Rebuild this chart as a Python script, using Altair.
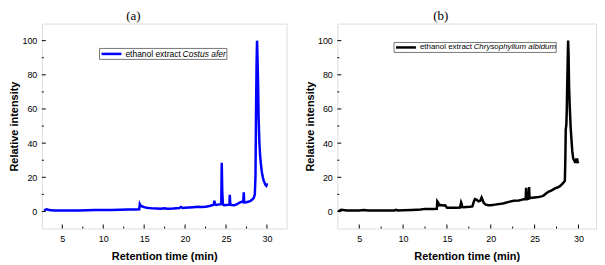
import altair as alt
import pandas as pd

# ---------------- data ----------------
# (a) ethanol extract Costus afer
t_a = [2.77, 2.9, 3.1, 3.2, 3.4, 3.7, 4.0, 5.0, 6.0, 7.0, 8.0, 9.0, 10.0, 11.0, 12.0, 13.0,
       14.0, 14.4, 14.47, 14.52, 14.6, 14.8, 15.0, 15.3, 15.6, 16.0, 16.5, 17.0, 17.5, 17.8,
       18.0, 18.5, 19.0, 19.3, 19.5, 19.7, 20.0, 20.5, 21.0, 21.5, 22.0, 22.5, 23.0, 23.3,
       23.5, 23.58, 23.65, 23.8, 24.0, 24.3, 24.42, 24.48, 24.54, 24.62, 24.75, 25.0, 25.3,
       25.42, 25.46, 25.52, 25.65, 26.0, 26.3, 26.6, 26.9, 27.1, 27.17, 27.22, 27.3, 27.5,
       27.8, 28.0, 28.2, 28.4, 28.52, 28.6, 28.67, 28.74, 28.79, 28.85, 28.93, 28.98, 29.08,
       29.18, 29.28, 29.38, 29.5, 29.6, 29.7, 29.77, 29.85, 29.92, 29.97, 30.0]
v_a = [0.6, 0.9, 1.2, 1.1, 0.8, 0.7, 0.6, 0.5, 0.5, 0.6, 0.7, 0.8, 0.8, 0.9, 1.0, 1.1,
       1.2, 1.3, 4.3, 3.8, 3.2, 2.9, 2.5, 2.2, 2.0, 1.8, 1.7, 1.6, 1.8, 1.6,
       1.6, 1.7, 1.9, 2.0, 2.6, 2.0, 2.1, 2.3, 2.5, 2.7, 2.6, 2.8, 3.2, 3.6,
       4.0, 6.3, 4.2, 3.8, 4.0, 4.2, 4.4, 28.5, 12.0, 4.2, 3.7, 3.8, 3.9,
       4.0, 9.8, 4.5, 3.8, 3.7, 4.1, 5.0, 5.6, 5.4, 11.2, 5.8, 5.3, 5.4,
       5.8, 6.2, 7.0, 8.0, 10.0, 20.0, 60.0, 88.0, 100.0, 90.0, 72.0, 55.0, 40.0,
       32.0, 27.0, 23.0, 20.0, 18.0, 17.0, 16.0, 15.3, 15.0, 15.6, 16.5]

# (b) ethanol extract Chrysophyllum albidum
t_b = [2.62, 2.8, 2.95, 3.2, 3.6, 4.0, 5.0, 5.5, 6.0, 7.0, 8.0, 9.0, 9.2, 9.4, 10.0, 11.0,
       12.0, 12.5, 13.0, 13.5, 13.85, 13.9, 14.0, 14.1, 14.3, 14.6, 14.8, 15.0, 15.5, 16.0,
       16.5, 16.62, 16.68, 16.75, 16.9, 17.2, 17.6, 17.9, 18.05, 18.2, 18.4, 18.6, 18.8, 18.95,
       19.05, 19.2, 19.43, 19.7, 19.99, 20.5, 20.93, 21.5, 22.06, 22.6, 23.19, 23.5, 23.75,
       23.98, 24.03, 24.08, 24.15, 24.3, 24.37, 24.42, 24.5, 24.69, 25.0, 25.44, 25.8, 26.0,
       26.3, 26.57, 27.0, 27.32, 27.6, 27.89, 28.1, 28.26, 28.45, 28.5, 28.55, 28.62, 28.67,
       28.72, 28.77, 28.82, 28.87, 28.93, 29.0, 29.1, 29.2, 29.3, 29.4, 29.5, 29.6, 29.7,
       29.75, 29.8, 29.85, 29.9, 30.0]
v_b = [0.0, 0.6, 1.0, 0.8, 0.6, 0.5, 0.5, 0.8, 0.5, 0.5, 0.6, 0.6, 1.0, 0.6, 0.7, 0.9,
       1.2, 1.5, 1.4, 1.5, 1.6, 5.9, 5.2, 3.6, 3.8, 3.5, 3.6, 2.2, 2.1, 2.2,
       2.3, 5.3, 4.5, 2.6, 2.5, 2.6, 2.7, 2.9, 5.5, 7.2, 6.8, 5.9, 6.3, 8.2,
       7.0, 5.0, 4.0, 3.6, 3.6, 4.0, 4.3, 4.8, 5.6, 6.2, 6.4, 6.8, 7.1,
       7.2, 13.9, 7.4, 7.2, 7.4, 14.3, 7.8, 7.8, 8.0, 8.2, 8.5, 8.8, 9.2,
       10.5, 11.5, 12.5, 13.5, 14.0, 14.8, 15.8, 16.7, 18.0, 30.0, 48.0, 51.0, 60.0,
       75.0, 88.0, 100.0, 92.0, 73.0, 62.0, 50.0, 42.0, 35.0, 31.0, 30.0, 29.0, 29.0,
       31.0, 29.5, 31.0, 29.0, 28.3]

x_major = [5, 10, 15, 20, 25, 30]
x_minor = [2.5, 7.5, 12.5, 17.5, 22.5, 27.5, 32.5]
y_major = [0, 20, 40, 60, 80, 100]
y_minor = [10, 30, 50, 70, 90]

legend_a = ["ethanol extract", "Costus afer"]
legend_b = ["ethanol extract", "Chrysophyllum albidum"]
titles = ["(a)", "(b)"]

SANS = "Liberation Sans"
SERIF = "Liberation Serif"
H = 206


def panel(t, v, color, xdom, legend, title, W, lg, title_dx):
    df = pd.DataFrame({"t": t, "v": v})
    xs = alt.Scale(domain=xdom, nice=False, zero=False)
    ys = alt.Scale(domain=[-10, 110], nice=False, zero=False)
    xax = alt.Axis(values=x_major, title="Retention time (min)", grid=False, domain=False,
                   ticks=False, tickSize=0, labelPadding=6, labelFont=SANS, labelFontSize=9,
                   labelColor="black", titleFont=SANS, titleFontSize=11, titleFontWeight="bold",
                   titleColor="black", titlePadding=7)
    yax = alt.Axis(values=y_major, title="Relative intensity", grid=False, domain=False,
                   ticks=False, tickSize=0, labelPadding=5, labelFont=SANS, labelFontSize=9,
                   labelColor="black", titleFont=SANS, titleFontSize=11, titleFontWeight="bold",
                   titleColor="black", titlePadding=2)

    line = alt.Chart(df).mark_line(color=color, strokeWidth=2.5, clip=True).encode(
        x=alt.X("t:Q", scale=xs, axis=xax),
        y=alt.Y("v:Q", scale=ys, axis=yax),
    )

    xt_major = alt.Chart(pd.DataFrame({"t": x_major})).mark_rule(color="black", strokeWidth=1).encode(
        x=alt.X("t:Q", scale=xs), y=alt.value(H), y2=alt.value(H - 4))
    xt_minor = alt.Chart(pd.DataFrame({"t": [m for m in x_minor if xdom[0] < m < xdom[1]]})).mark_rule(
        color="black", strokeWidth=1).encode(
        x=alt.X("t:Q", scale=xs), y=alt.value(H), y2=alt.value(H - 2))
    yt_major = alt.Chart(pd.DataFrame({"v": y_major})).mark_rule(color="black", strokeWidth=1).encode(
        y=alt.Y("v:Q", scale=ys), x=alt.value(0), x2=alt.value(4))
    yt_minor = alt.Chart(pd.DataFrame({"v": y_minor})).mark_rule(color="black", strokeWidth=1).encode(
        y=alt.Y("v:Q", scale=ys), x=alt.value(0), x2=alt.value(2))

    one = pd.DataFrame({"k": [0]})
    box = alt.Chart(one).mark_rect(fill="white", stroke="#555555", strokeWidth=0.8).encode(
        x=alt.value(lg["x0"]), x2=alt.value(lg["x1"]), y=alt.value(lg["y0"]), y2=alt.value(lg["y1"]))
    ymid = (lg["y0"] + lg["y1"]) / 2
    sample = alt.Chart(one).mark_rule(color=color, strokeWidth=2.5).encode(
        x=alt.value(lg["x0"] + 2), x2=alt.value(lg["x0"] + 22), y=alt.value(ymid))
    txt1 = alt.Chart(pd.DataFrame({"s": [legend[0]]})).mark_text(
        font=SANS, fontSize=lg["fs"], align="left", baseline="middle", color="black").encode(
        text="s:N", x=alt.value(lg["x0"] + 26), y=alt.value(ymid))
    txt2 = alt.Chart(pd.DataFrame({"s": [legend[1]]})).mark_text(
        font=SANS, fontSize=lg["fs"], fontStyle="italic", align="left", baseline="middle",
        color="black").encode(
        text="s:N", x=alt.value(lg["x0"] + 26 + lg["w1"]), y=alt.value(ymid))

    return alt.layer(line, xt_major, xt_minor, yt_major, yt_minor, box, sample, txt1, txt2).properties(
        width=W, height=H,
        title=alt.TitleParams(title, font=SERIF, fontSize=13, fontWeight="normal", color="black",
                              anchor="middle", frame="group", offset=1, dx=title_dx),
    )


left = panel(t_a, v_a, "#0000FF", [2.5, 32.4], legend_a, titles[0], 246,
             {"x0": 58, "x1": 186, "y0": 25, "y1": 36, "fs": 8.5, "w1": 57.5}, -31)
right = panel(t_b, v_b, "black", [2.5, 32.0], legend_b, titles[1], 260,
              {"x0": 57, "x1": 220, "y0": 19, "y1": 29, "fs": 8, "w1": 54}, -26)

chart = alt.hconcat(left, right, spacing=16).properties(padding=0).configure_view(
    stroke="black", strokeWidth=1.5).configure(background="white")

chart.save("out.html", embed_options={"renderer": "svg", "actions": False})
